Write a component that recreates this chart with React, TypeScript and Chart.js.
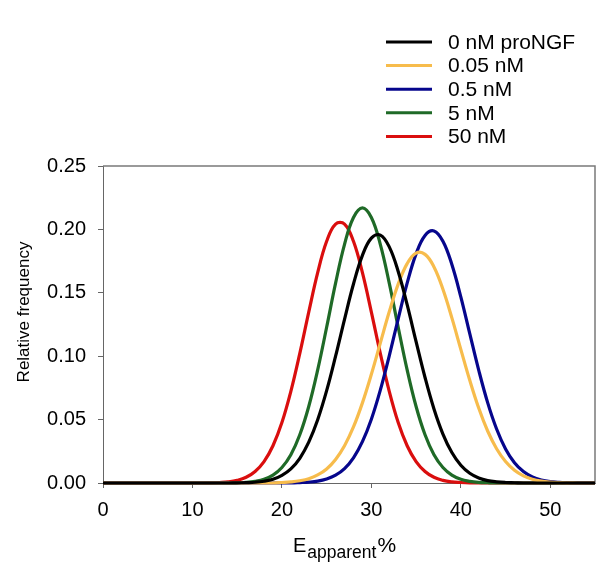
import React, { useEffect, useRef } from 'react';
import { Chart, registerables } from 'chart.js';

Chart.register(...registerables);

// E_apparent (%) sample positions
const xValues = [
  0, 1, 2, 3, 4, 5, 6, 7, 8, 9, 10, 11, 12, 13, 14, 15, 16, 17, 18, 19,
  20, 21, 22, 23, 24, 25, 26, 27, 28, 29, 30, 31, 32, 33, 34, 35, 36, 37, 38, 39,
  40, 41, 42, 43, 44, 45, 46, 47, 48, 49, 50, 51, 52, 53, 54, 55,
];

const seriesLabels = ['0 nM proNGF', '0.05 nM', '0.5 nM', '5 nM', '50 nM'];
const seriesColors = ['#000000', '#F7BC4C', '#06068C', '#1F6A27', '#DA0E0E'];

const black0nM = [
  0, 0, 0, 0, 0, 0, 0, 0, 0, 0, 0, 0, 0, 0, 0,
  0.0001, 0.0003, 0.0006, 0.0014, 0.0030, 0.0060, 0.0111, 0.0195, 0.0322, 0.0499,
  0.0728, 0.1000, 0.1291, 0.1569, 0.1795, 0.1931, 0.1955, 0.1862, 0.1668, 0.1406,
  0.1115, 0.0832, 0.0584, 0.0386, 0.0240, 0.0140, 0.0077, 0.0040, 0.0019, 0.0009, 0.0004, 0.0002,
  0, 0, 0, 0, 0, 0, 0, 0, 0,
];

const orange005nM = [
  0, 0, 0, 0, 0, 0, 0, 0, 0, 0, 0, 0, 0, 0, 0, 0, 0, 0, 0, 0,
  0.0004, 0.0009, 0.0018, 0.0034, 0.0064, 0.0111, 0.0186, 0.0294, 0.0442, 0.0632,
  0.0857, 0.1104, 0.1350, 0.1568, 0.1730, 0.1813, 0.1803, 0.1704, 0.1528, 0.1302,
  0.1054, 0.0810, 0.0591, 0.0410, 0.0270, 0.0169, 0.0100, 0.0056, 0.0030, 0.0015, 0.0007, 0.0003, 0.0001,
  0, 0, 0,
];

const blue05nM = [
  0, 0, 0, 0, 0, 0, 0, 0, 0, 0, 0, 0, 0, 0, 0, 0, 0, 0, 0, 0, 0, 0,
  0.0003, 0.0007, 0.0015, 0.0032, 0.0062, 0.0114, 0.0199, 0.0326, 0.0503, 0.0732,
  0.1003, 0.1295, 0.1576, 0.1807, 0.1952, 0.1988, 0.1907, 0.1723, 0.1468, 0.1178,
  0.0890, 0.0634, 0.0426, 0.0269, 0.0160, 0.0090, 0.0048, 0.0024, 0.0011, 0.0005, 0.0002,
  0, 0, 0,
];

const green5nM = [
  0, 0, 0, 0, 0, 0, 0, 0, 0, 0, 0, 0, 0, 0, 0,
  0.0002, 0.0005, 0.0013, 0.0029, 0.0062, 0.0122, 0.0223, 0.0380, 0.0603, 0.0892,
  0.1228, 0.1576, 0.1882, 0.2094, 0.2170, 0.2094, 0.1882, 0.1576, 0.1228, 0.0892,
  0.0603, 0.0380, 0.0223, 0.0122, 0.0062, 0.0029, 0.0013, 0.0005, 0.0002,
  0, 0, 0, 0, 0, 0, 0, 0, 0, 0, 0, 0,
];

const red50nM = [
  0, 0, 0, 0, 0, 0, 0, 0, 0, 0, 0, 0,
  0.0001, 0.0004, 0.0009, 0.0021, 0.0045, 0.0091, 0.0169, 0.0294, 0.0477, 0.0723,
  0.1022, 0.1348, 0.1659, 0.1906, 0.2042, 0.2042, 0.1906, 0.1659, 0.1348, 0.1022,
  0.0723, 0.0477, 0.0294, 0.0169, 0.0091, 0.0045, 0.0021, 0.0009, 0.0004, 0.0001,
  0, 0, 0, 0, 0, 0, 0, 0, 0, 0, 0, 0, 0, 0,
];

const seriesValues = [black0nM, orange005nM, blue05nM, green5nM, red50nM];

const yTicks = [0, 0.05, 0.1, 0.15, 0.2, 0.25];
const xTicks = [0, 10, 20, 30, 40, 50];

const Y_TITLE = 'Relative frequency';
const X_TITLE_MAIN = 'E';
const X_TITLE_SUB = 'apparent';
const X_TITLE_END = '%';

const FONT = '"Liberation Sans", Arial, Helvetica, sans-serif';

const decorPlugin = {
  id: 'decor',
  beforeDatasetsDraw(chart: any) {
    const { ctx, chartArea: a } = chart;
    ctx.save();
    ctx.strokeStyle = '#7a7a7a';
    ctx.lineWidth = 1.5;
    ctx.beginPath();
    ctx.moveTo(a.left, a.top);
    ctx.lineTo(a.right, a.top);
    ctx.lineTo(a.right, a.bottom);
    ctx.stroke();
    ctx.restore();
  },
  afterDraw(chart: any) {
    const ctx = chart.ctx;
    ctx.save();
    // legend
    chart.data.datasets.forEach((ds: any, i: number) => {
      const y = 42 + i * 23.6;
      ctx.strokeStyle = ds.borderColor;
      ctx.lineWidth = 3;
      ctx.beginPath();
      ctx.moveTo(386, y);
      ctx.lineTo(432, y);
      ctx.stroke();
      ctx.fillStyle = '#000';
      ctx.font = `21px ${FONT}`;
      ctx.textAlign = 'left';
      ctx.textBaseline = 'middle';
      ctx.fillText(ds.label, 448, y + 1);
    });
    // y title
    ctx.save();
    ctx.translate(29, 312);
    ctx.rotate(-Math.PI / 2);
    ctx.font = `17px ${FONT}`;
    ctx.textAlign = 'center';
    ctx.textBaseline = 'alphabetic';
    ctx.fillStyle = '#000';
    ctx.fillText(Y_TITLE, 0, 0);
    ctx.restore();
    // x title with subscript
    ctx.fillStyle = '#000';
    ctx.textAlign = 'left';
    ctx.textBaseline = 'alphabetic';
    let x = 293;
    ctx.font = `20px ${FONT}`;
    ctx.fillText(X_TITLE_MAIN, x, 552);
    x += ctx.measureText(X_TITLE_MAIN).width + 1;
    ctx.font = `17.5px ${FONT}`;
    ctx.fillText(X_TITLE_SUB, x, 558);
    x += ctx.measureText(X_TITLE_SUB).width + 1;
    ctx.font = `21px ${FONT}`;
    ctx.fillText(X_TITLE_END, x, 552);
    ctx.restore();
  },
};

export default function App() {
  const canvasRef = useRef<HTMLCanvasElement | null>(null);

  useEffect(() => {
    if (!canvasRef.current) return;
    const datasets = seriesLabels.map((label, i) => ({
      label,
      data: xValues.map((x, j) => ({ x, y: seriesValues[i][j] })),
      borderColor: seriesColors[i],
      backgroundColor: seriesColors[i],
      borderWidth: 3.2,
      pointRadius: 0,
      tension: 0.4,
      fill: false,
      clip: false as any,
    }));
    const chart = new Chart(canvasRef.current, {
      type: 'line',
      data: { datasets },
      options: {
        animation: false,
        responsive: false,
        devicePixelRatio: 1,
        layout: { padding: { top: 166, right: 5, left: 0, bottom: 0 } },
        plugins: { legend: { display: false }, tooltip: { enabled: false } },
        scales: {
          x: {
            type: 'linear',
            min: 0,
            max: 55,
            afterFit: (s: any) => { s.height = 82; },
            afterBuildTicks: (s: any) => { s.ticks = xTicks.map((v) => ({ value: v })); },
            ticks: {
              font: { family: FONT, size: 20 },
              color: '#000',
              padding: 10,
              maxRotation: 0,
              callback: (v: any) => String(v),
            },
            grid: { display: true, drawOnChartArea: false, drawTicks: true, tickLength: 5, color: '#666' },
            border: { display: true, color: '#666', width: 1 },
          },
          y: {
            type: 'linear',
            min: 0,
            max: 0.25,
            afterFit: (s: any) => { s.width = 103; },
            afterBuildTicks: (s: any) => { s.ticks = yTicks.map((v) => ({ value: v })); },
            ticks: {
              font: { family: FONT, size: 20 },
              color: '#000',
              padding: 12,
              callback: (v: any) => Number(v).toFixed(2),
            },
            grid: { display: true, drawOnChartArea: false, drawTicks: true, tickLength: 5, color: '#666' },
            border: { display: true, color: '#666', width: 1 },
          },
        },
      },
      plugins: [decorPlugin],
    });
    return () => chart.destroy();
  }, []);

  return (
    <div style={{ position: 'fixed', left: 0, top: 0, width: 600, height: 565, background: '#fff' }}>
      <canvas ref={canvasRef} width={600} height={565} style={{ display: 'block', width: 600, height: 565 }} />
    </div>
  );
}
